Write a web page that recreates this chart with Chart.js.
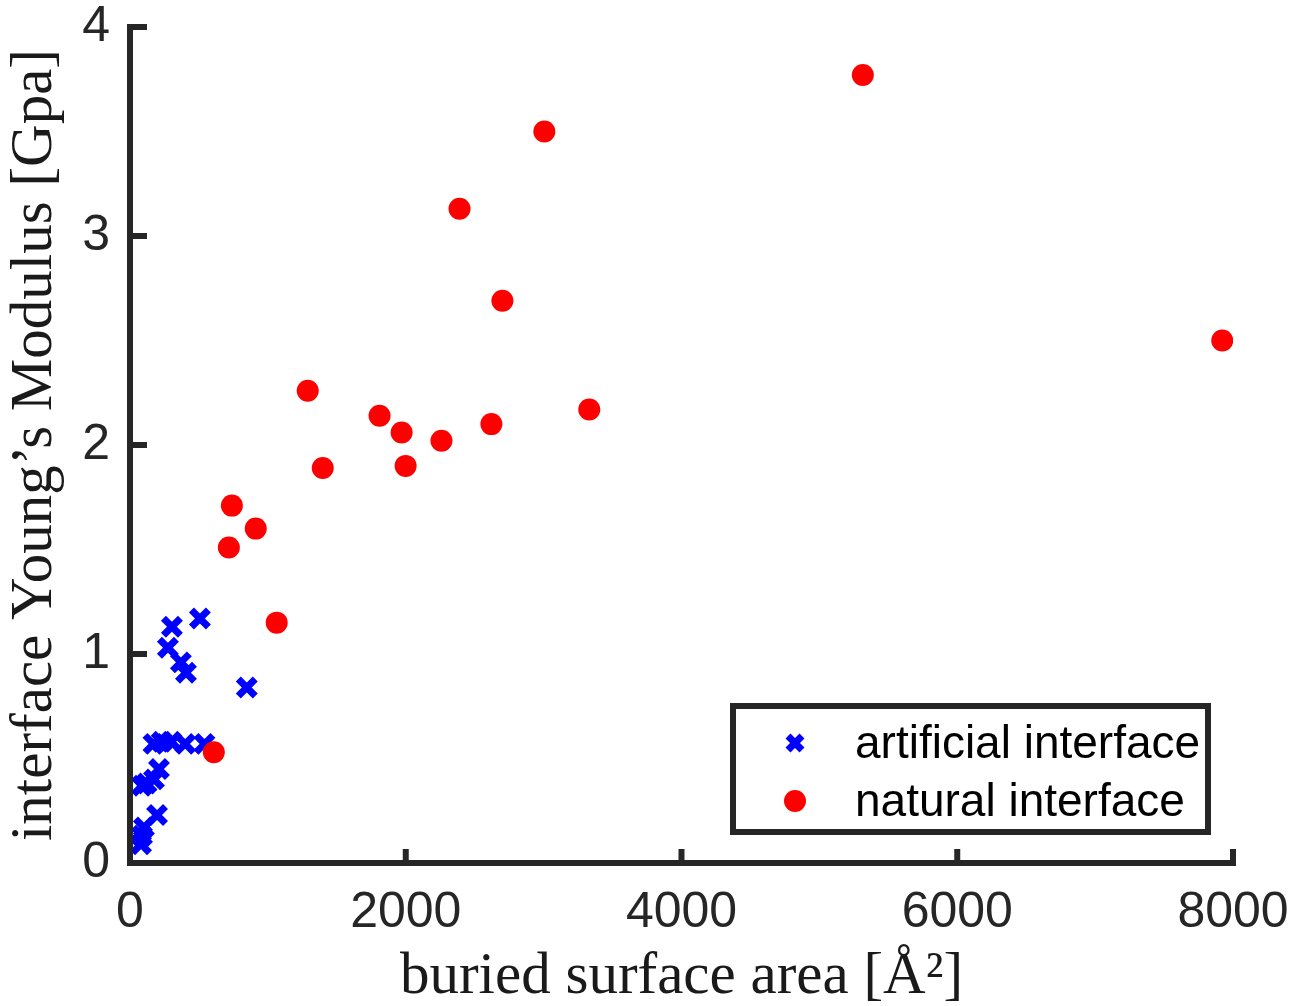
<!DOCTYPE html>
<html>
<head>
<meta charset="utf-8">
<script src="https://cdn.jsdelivr.net/npm/chart.js@4"></script>
<style>
  html, body { margin: 0; padding: 0; background: #fff; }
  #wrap { width: 1304px; height: 1006px; }
</style>
</head>
<body>
<div id="wrap"><canvas id="grafico" width="1304" height="1006"></canvas></div>
<script>
// dados
const seriesNames = ['artificial interface', 'natural interface'];

const artificialX = [304, 507, 275, 369, 406, 847, 170, 230, 300, 400, 540, 210, 174, 87, 120, 196, 101, 87, 80];
const artificialY = [1.13, 1.17, 1.03, 0.96, 0.91, 0.84, 0.57, 0.58, 0.58, 0.57, 0.57, 0.45, 0.40, 0.37, 0.38, 0.23, 0.17, 0.13, 0.09];

const naturalX = [5315, 3005, 2390, 2701, 7922, 1289, 3331, 1810, 1970, 2621, 2259, 1398, 1999, 739, 912, 717, 1064, 608];
const naturalY = [3.77, 3.50, 3.13, 2.69, 2.50, 2.26, 2.17, 2.14, 2.06, 2.10, 2.02, 1.89, 1.90, 1.71, 1.60, 1.51, 1.15, 0.53];

const xTicks = [0, 2000, 4000, 6000, 8000];
const yTicks = [0, 1, 2, 3, 4];

const corEixo = '#262626';
const fonteNum = '"Liberation Sans", Arial, sans-serif';
const fonteTitulo = '"Liberation Serif", "Times New Roman", serif';

function pontos(xs, ys) {
    return xs.map((x, i) => ({ x: x, y: ys[i] }));
}

// eixos grossos e marcas de escala para dentro (estilo MATLAB)
const eixosMatlab = {
    id: 'eixosMatlab',
    afterDraw(chart) {
        const ctx = chart.ctx;
        const area = chart.chartArea;
        const sx = chart.scales.x;
        const sy = chart.scales.y;
        ctx.save();
        ctx.strokeStyle = corEixo;
        ctx.lineWidth = 6;
        ctx.lineCap = 'square';
        ctx.beginPath();
        ctx.moveTo(area.left, area.top);
        ctx.lineTo(area.left, area.bottom);
        ctx.lineTo(area.right, area.bottom);
        ctx.stroke();
        ctx.lineCap = 'butt';
        xTicks.forEach(v => {
            const px = sx.getPixelForValue(v);
            ctx.beginPath();
            ctx.moveTo(px, area.bottom);
            ctx.lineTo(px, area.bottom - 14);
            ctx.stroke();
        });
        yTicks.forEach(v => {
            const py = sy.getPixelForValue(v);
            ctx.beginPath();
            ctx.moveTo(area.left, py);
            ctx.lineTo(area.left + 17, py);
            ctx.stroke();
        });
        ctx.restore();
    }
};

// legenda com caixa, no canto inferior direito
const legendaCaixa = {
    id: 'legendaCaixa',
    afterDraw(chart) {
        const ctx = chart.ctx;
        const area = chart.chartArea;
        const w = 475, h = 126;
        const x0 = area.right - 25 - w;
        const y0 = area.bottom - 31 - h;
        ctx.save();
        ctx.fillStyle = '#fff';
        ctx.fillRect(x0, y0, w, h);
        ctx.strokeStyle = corEixo;
        ctx.lineWidth = 6;
        ctx.strokeRect(x0, y0, w, h);
        chart.data.datasets.forEach((ds, i) => {
            const cy = y0 + 37 + i * 58;
            const mx = x0 + 62;
            ctx.fillStyle = ds.backgroundColor;
            ctx.strokeStyle = ds.borderColor;
            ctx.lineWidth = ds.borderWidth;
            ctx.beginPath();
            if (ds.pointStyle === 'circle') {
                ctx.arc(mx, cy, 11, 0, Math.PI * 2);
                ctx.fill();
            } else {
                const r = 7;
                ctx.moveTo(mx - r, cy - r); ctx.lineTo(mx + r, cy + r);
                ctx.moveTo(mx + r, cy - r); ctx.lineTo(mx - r, cy + r);
                ctx.stroke();
            }
            ctx.fillStyle = '#000';
            ctx.font = '46px ' + fonteNum;
            ctx.textBaseline = 'middle';
            ctx.textAlign = 'left';
            ctx.fillText(ds.label, x0 + 122, cy + 2);
        });
        ctx.restore();
    }
};

const ctx = document.getElementById('grafico').getContext('2d');
const grafico = new Chart(ctx, {
    type: 'scatter',
    data: {
        datasets: [{
            label: seriesNames[0],
            data: pontos(artificialX, artificialY),
            pointStyle: 'crossRot',
            pointRadius: 12,
            borderWidth: 7,
            borderColor: '#0000ff',
            backgroundColor: '#0000ff',
            order: 1
        }, {
            label: seriesNames[1],
            data: pontos(naturalX, naturalY),
            pointStyle: 'circle',
            pointRadius: 11,
            borderWidth: 0,
            borderColor: '#ff0000',
            backgroundColor: '#ff0000',
            order: 0
        }]
    },
    options: {
        responsive: false,
        animation: false,
        devicePixelRatio: 1,
        layout: { padding: { top: 27, right: 71, left: 0, bottom: 0 } },
        plugins: {
            legend: { display: false },
            tooltip: { enabled: false }
        },
        scales: {
            x: {
                type: 'linear',
                min: 0,
                max: 8000,
                afterBuildTicks: s => { s.ticks = xTicks.map(v => ({ value: v })); },
                afterFit: s => { s.height = 143; s.paddingRight = 0; s.paddingLeft = 0; },
                border: { display: false },
                grid: { display: false, drawTicks: false },
                ticks: {
                    color: corEixo,
                    padding: 20,
                    callback: v => String(v),
                    font: { family: fonteNum, size: 50 }
                },
                title: {
                    display: true,
                    text: 'buried surface area [Å²]',
                    color: '#1a1a1a',
                    padding: { top: 0, bottom: 0 },
                    font: { family: fonteTitulo, size: 59, lineHeight: 0.95 }
                }
            },
            y: {
                type: 'linear',
                min: 0,
                max: 4,
                afterBuildTicks: s => { s.ticks = yTicks.map(v => ({ value: v })); },
                afterFit: s => { s.width = 130; },
                border: { display: false },
                grid: { display: false, drawTicks: false },
                ticks: {
                    color: corEixo,
                    padding: 20,
                    callback: v => String(v),
                    font: { family: fonteNum, size: 50, lineHeight: 0.2 }
                },
                title: {
                    display: true,
                    text: 'interface Young\u2019s Modulus [Gpa]',
                    color: '#1a1a1a',
                    padding: { top: 0, bottom: 0 },
                    font: { family: fonteTitulo, size: 59 }
                }
            }
        }
    },
    plugins: [eixosMatlab, legendaCaixa]
});
</script>
</body>
</html>
